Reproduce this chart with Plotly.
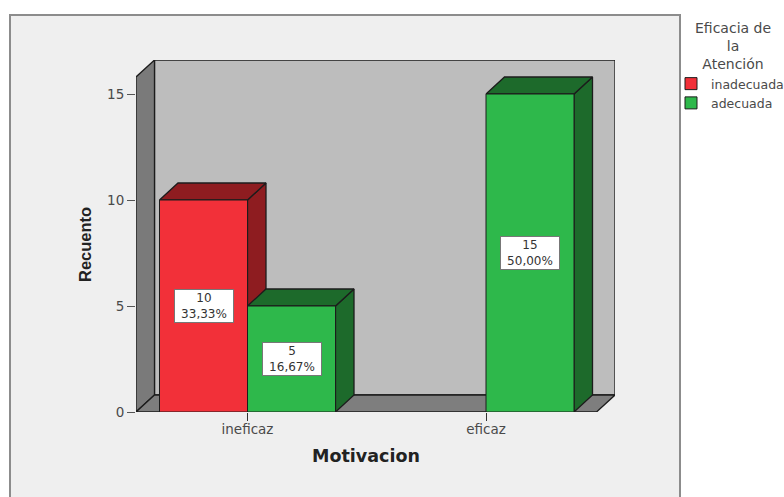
import plotly.graph_objects as go

# Data
categories = ["ineficaz", "eficaz"]
series_names = ["inadecuada", "adecuada"]
inadecuada = [10, None]
adecuada = [5, 15]
inadecuada_pct = ["33,33%", None]
adecuada_pct = ["16,67%", "50,00%"]
y_ticks = [0, 5, 10, 15]
legend_title = "Eficacia de<br>la<br>Atención"

# Layout in pixels
W, H = 784, 497
LEFT, RIGHT, TOP, BOTTOM = 136, 615, 60, 412
PX_PER_CAT = 238.5
PX_PER_UNIT = 21.2
CAT0_PX = 247.5
DEPTH_X = 18.5 / PX_PER_CAT
DEPTH_Y = 17 / PX_PER_UNIT
BAR_W = 88 / PX_PER_CAT

x_range = [(LEFT - CAT0_PX) / PX_PER_CAT, (RIGHT - CAT0_PX) / PX_PER_CAT]
y_range = [0, (BOTTOM - TOP) / PX_PER_UNIT]
x0, x1 = x_range
y1 = y_range[1]

RED, RED_DARK = "#f23039", "#8e1c20"
GREEN, GREEN_DARK = "#2eb84b", "#1d6a2b"
EDGE = "#1c1c1c"
TEXT = "#4a4a4a"
FONT = "DejaVu Sans"


def px_x(px):
    return (px - LEFT) / (RIGHT - LEFT)


def px_y(px):
    return (BOTTOM - px) / (BOTTOM - TOP)


fig = go.Figure()


def face(xs, ys, color):
    fig.add_trace(go.Scatter(
        x=xs, y=ys, mode="lines", fill="toself", fillcolor=color,
        line=dict(color=EDGE, width=1.3), hoverinfo="skip", showlegend=False,
        xaxis="x", yaxis="y",
    ))


# Chart box walls and floor
face([x0 + DEPTH_X, x1, x1, x0 + DEPTH_X, x0 + DEPTH_X],
     [DEPTH_Y, DEPTH_Y, y1, y1, DEPTH_Y], "#bdbdbd")
face([x0, x0 + DEPTH_X, x0 + DEPTH_X, x0, x0],
     [0, DEPTH_Y, y1, y1 - DEPTH_Y, 0], "#7a7a7a")
face([x0, x1 - DEPTH_X, x1, x0 + DEPTH_X, x0],
     [0, 0, DEPTH_Y, DEPTH_Y, 0], "#7e7e7e")


def bar_depth(center, value, dark):
    """Side and top faces of an extruded bar."""
    left, right = center - BAR_W / 2, center + BAR_W / 2
    face([right, right + DEPTH_X, right + DEPTH_X, right, right],
         [0, DEPTH_Y, value + DEPTH_Y, value, 0], dark)
    face([left, right, right + DEPTH_X, left + DEPTH_X, left],
         [value, value, value + DEPTH_Y, value + DEPTH_Y, value], dark)


# Back-to-front so nearer faces cover farther ones
for i in range(len(categories)):
    if inadecuada[i] is not None:
        bar_depth(i - BAR_W / 2, inadecuada[i], RED_DARK)
    if adecuada[i] is not None:
        bar_depth(i + BAR_W / 2, adecuada[i], GREEN_DARK)

# Front faces sit on an overlaying axis pair, which stacks above the depth faces
for name, vals, color, bar_offset in [
    (series_names[0], inadecuada, RED, -BAR_W),
    (series_names[1], adecuada, GREEN, 0),
]:
    fig.add_trace(go.Bar(
        x=list(range(len(categories))), y=vals, name=name,
        marker=dict(color=color, line=dict(color=EDGE, width=1)),
        xaxis="x2", yaxis="y2", width=BAR_W, offset=bar_offset,
    ))

# Value labels in white boxes
annotations = []
for offset, vals, pcts in [(-BAR_W / 2, inadecuada, inadecuada_pct), (BAR_W / 2, adecuada, adecuada_pct)]:
    for i, (v, p) in enumerate(zip(vals, pcts)):
        if v is None:
            continue
        annotations.append(dict(
            x=i + offset, y=v / 2, xref="x2", yref="y2", showarrow=False,
            text=f"{v}<br>{p}", align="center", width=58, height=32,
            font=dict(family=FONT, size=12, color="#333333"),
            bgcolor="white", bordercolor="#777777", borderwidth=1, borderpad=0,
        ))

# Axis titles
annotations.append(dict(
    x=px_x(366), y=px_y(456), xref="paper", yref="paper", showarrow=False,
    xanchor="center", yanchor="middle",
    text="<b>Motivacion</b>", font=dict(family=FONT, size=17.5, color="#222222"),
))
annotations.append(dict(
    x=px_x(85), y=px_y(245), xref="paper", yref="paper", showarrow=False,
    xanchor="center", yanchor="middle",
    text="<b>Recuento</b>", textangle=-90,
    font=dict(family="Liberation Sans", size=16.5, color="#222222"),
))

# Legend heading
annotations.append(dict(
    x=px_x(733), y=px_y(46), xref="paper", yref="paper", showarrow=False,
    xanchor="center", yanchor="middle", align="center",
    text=legend_title, font=dict(family=FONT, size=14, color=TEXT),
))

# Grey panel behind the chart, running off the bottom edge
panel = dict(
    type="rect", xref="paper", yref="paper", layer="below",
    x0=px_x(10), x1=px_x(680), y0=px_y(510), y1=px_y(15),
    fillcolor="#efefef", line=dict(color="#8c8c8c", width=2),
)

fig.update_layout(
    width=W, height=H,
    margin=dict(l=LEFT, r=W - RIGHT, t=TOP, b=H - BOTTOM, autoexpand=False),
    paper_bgcolor="white", plot_bgcolor="rgba(0,0,0,0)",
    font=dict(family=FONT, color=TEXT),
    barmode="overlay",
    shapes=[panel], annotations=annotations,
    xaxis=dict(
        range=x_range, tickmode="array", tickvals=list(range(len(categories))),
        ticktext=categories, ticks="outside", ticklen=8, tickcolor="#333333",
        ticklabelstandoff=-3, showgrid=False, zeroline=False, showline=False,
        tickfont=dict(family=FONT, size=13.5, color=TEXT),
    ),
    yaxis=dict(
        range=y_range, tickmode="array", tickvals=y_ticks, ticks="outside", ticklen=8,
        tickcolor="#555555", showgrid=False, zeroline=False, showline=False,
        tickfont=dict(family=FONT, size=13.5, color=TEXT),
    ),
    xaxis2=dict(range=x_range, overlaying="x", visible=False),
    yaxis2=dict(range=y_range, overlaying="y", visible=False),
    legend=dict(
        x=px_x(671), xanchor="left", y=px_y(69), yanchor="top",
        bgcolor="rgba(0,0,0,0)", itemwidth=30,
        font=dict(family=FONT, size=12.5, color=TEXT),
    ),
)

fig.write_html("out.html")
